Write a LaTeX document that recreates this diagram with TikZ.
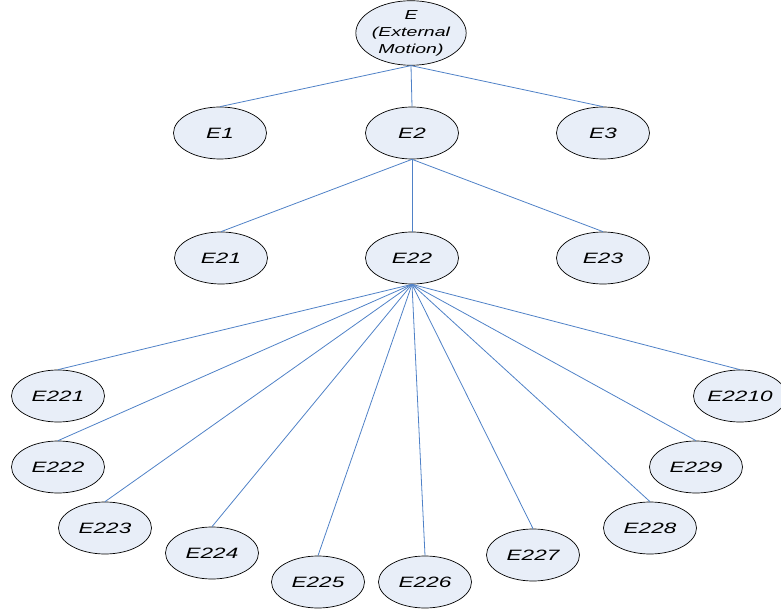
\documentclass[tikz,border=0pt]{standalone}
\usepackage{fontspec}
\setmainfont{Liberation Sans}
\usepackage{graphicx}
\usetikzlibrary{shapes.geometric}
\definecolor{nodefill}{RGB}{232,238,248}
\definecolor{edgeblue}{RGB}{79,129,199}
% labels are set slightly widened
\newcommand{\wtxt}[1]{\scalebox{1.5}[1]{#1}}
\tikzset{
  tnode/.style={ellipse, draw=black, line width=0.7pt, fill=nodefill,
    minimum width=93pt, minimum height=52pt, inner sep=0pt,
    font=\fontsize{15}{15}\selectfont\itshape},
  edge/.style={draw=edgeblue, line width=0.8pt}
}
\begin{document}
\begin{tikzpicture}[x=1pt,y=-1pt]
  \useasboundingbox (0,0) rectangle (781,609);
  % nodes
  \node[tnode, minimum width=91pt, minimum height=53pt,
        align=center, font=\fontsize{13}{17}\selectfont\itshape] (E) at (411,33)
        {\wtxt{E}\\\wtxt{(External}\\\wtxt{Motion)}};
  \node[tnode] (E1) at (220,133) {\wtxt{E1}};
  \node[tnode] (E2) at (412,133) {\wtxt{E2}};
  \node[tnode] (E3) at (603,133) {\wtxt{E3}};
  \node[tnode] (E21) at (221,258) {\wtxt{E21}};
  \node[tnode] (E22) at (412,258) {\wtxt{E22}};
  \node[tnode] (E23) at (603,258) {\wtxt{E23}};
  \node[tnode] (E221) at (58,396) {\wtxt{E221}};
  \node[tnode] (E222) at (58,467) {\wtxt{E222}};
  \node[tnode] (E223) at (105,528) {\wtxt{E223}};
  \node[tnode] (E224) at (212,553) {\wtxt{E224}};
  \node[tnode] (E225) at (318,582) {\wtxt{E225}};
  \node[tnode] (E226) at (425,582) {\wtxt{E226}};
  \node[tnode] (E227) at (533,555) {\wtxt{E227}};
  \node[tnode] (E228) at (650,528) {\wtxt{E228}};
  \node[tnode] (E229) at (696,467) {\wtxt{E229}};
  \node[tnode] (E2210) at (740,396) {\wtxt{E2210}};
  % connectors
  \foreach \c in {E1,E2,E3} \draw[edge] (E.south) -- (\c.north);
  \foreach \c in {E21,E22,E23} \draw[edge] (E2.south) -- (\c.north);
  \foreach \c in {E221,E222,E223,E224,E225,E226,E227,E228,E229,E2210}
    \draw[edge] (E22.south) -- (\c.north);
\end{tikzpicture}
\end{document}
